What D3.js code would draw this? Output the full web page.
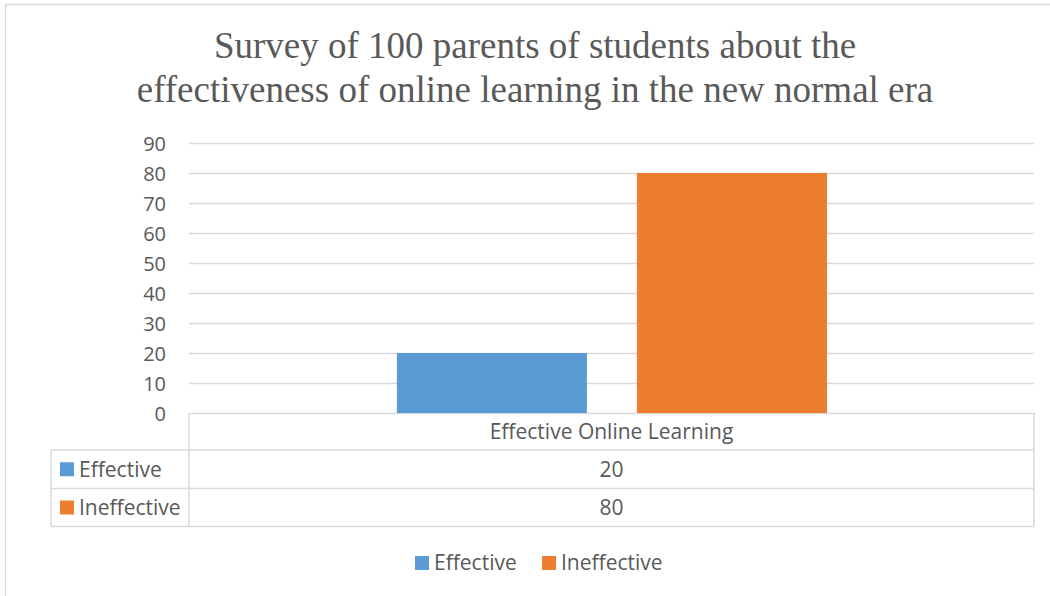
<!DOCTYPE html>
<html>
<head>
<meta charset="utf-8">
<style>
body { margin: 0; background: #fff; }
svg { display: block; }
.tick text { font-family: "Open Sans", sans-serif; font-size: 20px; fill: #595959; }
.cell { font-family: "Open Sans", sans-serif; font-size: 21px; fill: #595959; }
</style>
</head>
<body>
<div id="chart"></div>
<script src="https://d3js.org/d3.v7.min.js"></script>
<script>

// chart data
var titleLines = ["Survey of 100 parents of students about the",
                  "effectiveness of online learning in the new normal era"];
var categories = ["Effective Online Learning"];
var seriesNames = ["Effective", "Ineffective"];
var seriesValues = [[20], [80]];
var seriesColors = ["#5b9bd5", "#ed7d31"];
var yTicks = [0, 10, 20, 30, 40, 50, 60, 70, 80, 90];

var W = 1050, H = 596;
var plot = {left: 189, right: 1034, top: 143, bottom: 413};

var svg = d3.select("#chart").append("svg")
    .attr("width", W)
    .attr("height", H);

// outer chart border
svg.append("rect")
    .attr("x", 5.5).attr("y", 4.5)
    .attr("width", W).attr("height", H)
    .attr("fill", "none")
    .attr("stroke", "#d9d9d9")
    .attr("stroke-width", 1.5);

// title
svg.append("text")
    .attr("text-anchor", "middle")
    .style("font-family", "'Liberation Serif', serif")
    .style("font-size", "37px")
    .style("fill", "#595959")
  .selectAll("tspan")
    .data(titleLines)
  .enter().append("tspan")
    .attr("x", 535)
    .attr("y", function(d, i) { return 58 + i * 44; })
    .text(function(d) { return d; });

// scales
var y = d3.scaleLinear().domain([0, 90]).range([plot.bottom, plot.top]);
var x0 = d3.scaleBand().domain(categories).range([plot.left, plot.right]);
var x1 = d3.scaleBand().domain(seriesNames)
    .range([x0.bandwidth() * 0.246, x0.bandwidth() * 0.755])
    .paddingInner(50 / 240);

// y axis with gridlines
var yAxis = svg.append("g")
    .attr("transform", "translate(" + plot.left + ",0)")
    .call(d3.axisLeft(y).tickValues(yTicks).tickSize(-(plot.right - plot.left)).tickPadding(23));
yAxis.select(".domain").remove();
yAxis.selectAll(".tick line").attr("stroke", "#d9d9d9").attr("stroke-width", 1.5);
yAxis.selectAll(".tick text").attr("dy", "0.35em");

// bars
seriesNames.forEach(function(s, si) {
  svg.append("g").selectAll("rect")
      .data(categories)
    .enter().append("rect")
      .attr("x", function(c) { return x0(c) + x1(s); })
      .attr("y", function(c, ci) { return y(seriesValues[si][ci]); })
      .attr("width", x1.bandwidth())
      .attr("height", function(c, ci) { return y(0) - y(seriesValues[si][ci]); })
      .attr("fill", seriesColors[si]);
});

// data table under the plot
var tableLeft = 51, rowH = [37, 38.5, 38];
var rowTop = [plot.bottom, plot.bottom + rowH[0], plot.bottom + rowH[0] + rowH[1]];
var tableBottom = rowTop[2] + rowH[2];
var grid = svg.append("g").attr("stroke", "#d9d9d9").attr("stroke-width", 1.5).attr("fill", "none");
// horizontal lines
grid.append("line").attr("x1", tableLeft).attr("x2", plot.right).attr("y1", rowTop[1]).attr("y2", rowTop[1]);
grid.append("line").attr("x1", tableLeft).attr("x2", plot.right).attr("y1", rowTop[2]).attr("y2", rowTop[2]);
grid.append("line").attr("x1", tableLeft).attr("x2", plot.right).attr("y1", tableBottom).attr("y2", tableBottom);
// vertical lines
grid.append("line").attr("x1", tableLeft).attr("x2", tableLeft).attr("y1", rowTop[1]).attr("y2", tableBottom);
grid.append("line").attr("x1", plot.left).attr("x2", plot.left).attr("y1", plot.bottom).attr("y2", tableBottom);
categories.forEach(function(c) {
  var xr = x0(c) + x0.bandwidth();
  grid.append("line").attr("x1", xr).attr("x2", xr).attr("y1", plot.bottom).attr("y2", tableBottom);
});

// category header
svg.selectAll(".cat")
    .data(categories)
  .enter().append("text")
    .attr("class", "cell")
    .attr("x", function(c) { return x0(c) + x0.bandwidth() / 2; })
    .attr("y", rowTop[0] + rowH[0] / 2)
    .attr("dy", "0.35em")
    .attr("text-anchor", "middle")
    .text(function(c) { return c; });

// series rows
seriesNames.forEach(function(s, si) {
  var yc = rowTop[si + 1] + rowH[si + 1] / 2;
  svg.append("rect")
      .attr("x", 60).attr("y", yc - 7)
      .attr("width", 14).attr("height", 14)
      .attr("fill", seriesColors[si]);
  svg.append("text")
      .attr("class", "cell")
      .attr("x", 79).attr("y", yc).attr("dy", "0.35em")
      .text(s);
  categories.forEach(function(c, ci) {
    svg.append("text")
        .attr("class", "cell")
        .attr("x", x0(c) + x0.bandwidth() / 2)
        .attr("y", yc).attr("dy", "0.35em")
        .attr("text-anchor", "middle")
        .text(seriesValues[si][ci]);
  });
});

// legend
var legendX = [415, 542];
var legend = svg.append("g");
seriesNames.forEach(function(s, si) {
  legend.append("rect")
      .attr("x", legendX[si]).attr("y", 556)
      .attr("width", 14).attr("height", 14)
      .attr("fill", seriesColors[si]);
  legend.append("text")
      .attr("class", "cell")
      .attr("x", legendX[si] + 19).attr("y", 563).attr("dy", "0.35em")
      .text(s);
});

</script>
</body>
</html>
